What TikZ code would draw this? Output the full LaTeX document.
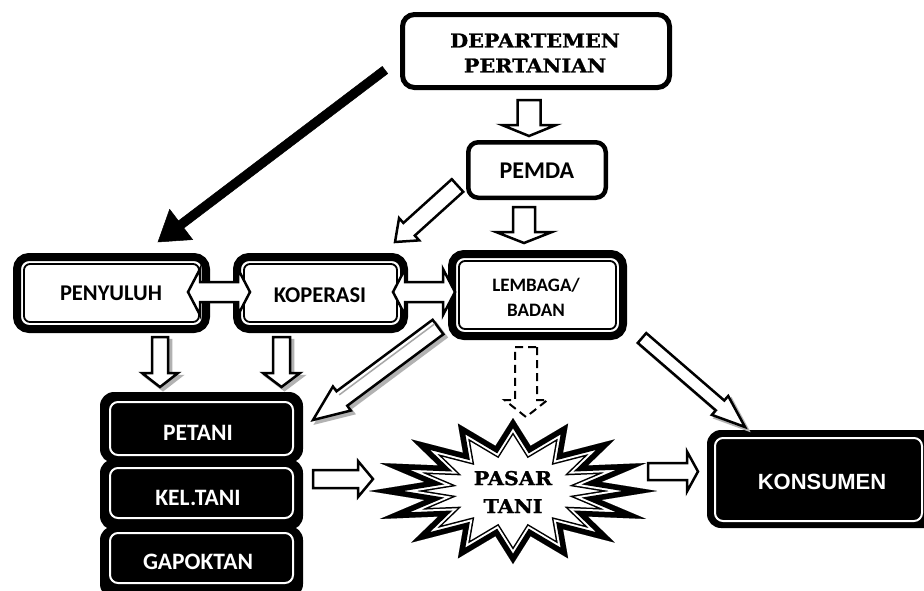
\documentclass[tikz,border=0pt]{standalone}
\usepackage{fontspec}
\setmainfont{DejaVu Serif}
\newfontfamily\calfont{Carlito}
\newfontfamily\arialfont{Liberation Sans}
\newfontfamily\serfont{DejaVu Serif Bold}[FakeBold=1.2,FakeStretch=1.09]
\usetikzlibrary{calc}

% block arrow: [style]{A}{B}{shaft half}{head half}{head length}
\newcommand\barrow[6][]{%
  \path let \p1=($(#3)-(#2)$) in \pgfextra{\pgfmathsetmacro\bA{atan2(\y1,\x1)}\pgfmathsetmacro\bL{veclen(\x1,\y1)}\global\let\gA\bA\global\let\gL\bL};
  \begin{scope}[shift={(#2)},rotate=\gA]
    \path[draw,fill=white,line width=2.5,line join=miter,#1]
      (0pt,#4pt) -- ({(\gL-#6)*1pt},#4pt) -- ({(\gL-#6)*1pt},#5pt) -- ({\gL*1pt},0pt)
      -- ({(\gL-#6)*1pt},-#5pt) -- ({(\gL-#6)*1pt},-#4pt) -- (0pt,-#4pt) -- cycle;
  \end{scope}}
% block arrow with grey shadow
\newcommand\shbarrow[5]{%
  \begin{scope}[xshift=3pt,yshift=-3pt]\barrow[draw=gray!60,fill=gray!60]{#1}{#2}{#3}{#4}{#5}\end{scope}%
  \barrow{#1}{#2}{#3}{#4}{#5}}
% double block arrow
\newcommand\dbarrow[6][]{%
  \path let \p1=($(#3)-(#2)$) in \pgfextra{\pgfmathsetmacro\bA{atan2(\y1,\x1)}\pgfmathsetmacro\bL{veclen(\x1,\y1)}\global\let\gA\bA\global\let\gL\bL};
  \begin{scope}[shift={(#2)},rotate=\gA]
    \path[draw,fill=white,line width=2.5,line join=miter,#1]
      (0pt,0pt) -- (#6pt,#5pt) -- (#6pt,#4pt) -- ({(\gL-#6)*1pt},#4pt) -- ({(\gL-#6)*1pt},#5pt) -- ({\gL*1pt},0pt)
      -- ({(\gL-#6)*1pt},-#5pt) -- ({(\gL-#6)*1pt},-#4pt) -- (#6pt,-#4pt) -- (#6pt,-#5pt) -- cycle;
  \end{scope}}
\newcommand\starpath{(513,418) \foreach \k in {0,...,14}{ -- ({513+90*cos(101.25+22.5*\k)},{491-46*sin(101.25+22.5*\k)}) -- ({513+144*cos(112.5+22.5*\k)},{491-73*sin(112.5+22.5*\k)}) } -- ({513+90*cos(438.75)},{491-46*sin(438.75)}) -- cycle}

\begin{document}
\begin{tikzpicture}[x=1pt,y=-1pt,
  sanslbl/.style={font=\calfont\bfseries\fontsize{22.5}{25}\selectfont, align=center, inner sep=0pt},
  whitelbl/.style={font=\calfont\bfseries\fontsize{23.5}{25}\selectfont, text=white, inner sep=0pt},
  serlbl/.style={font=\serfont\fontsize{19}{25}\selectfont, align=center, inner sep=0pt},
  dblouter/.style={line width=8, rounded corners=12},
  dblinner/.style={line width=1.8, rounded corners=6},
  blackbox/.style={fill=black, rounded corners=14},
  whiteline/.style={draw=white, line width=2, rounded corners=8}]
\clip (0,0) rectangle (924,590);
\fill[white] (0,0) rectangle (924,590);

% DEPARTEMEN PERTANIAN
\draw[line width=5, rounded corners=12] (402.5,14.5) rectangle (669.5,87.5);
\node[serlbl] (dept) at (535,53) {DEPARTEMEN\\PERTANIAN};

% PEMDA
\draw[line width=4.5, rounded corners=10] (468.25,142.25) rectangle (605.75,197.75);
\node[sanslbl, font=\calfont\bfseries\fontsize{24}{26}\selectfont] (pemda) at (537,171) {PEMDA};

% PENYULUH
\draw[dblouter] (17,257) rectangle (206,329);
\draw[dblinner] (24,264) rectangle (199,322);
\node[sanslbl] (penyuluh) at (111,293) {PENYULUH};

% KOPERASI
\draw[dblouter] (237,257) rectangle (404,329);
\draw[dblinner] (244,264) rectangle (397,322);
\node[sanslbl] (koperasi) at (320,295) {KOPERASI};

% LEMBAGA/BADAN
\draw[dblouter] (452,254) rectangle (623,336);
\draw[dblinner] (459,261) rectangle (616,329);
\node[sanslbl, font=\calfont\bfseries\fontsize{19}{25}\selectfont] (lembaga) at (536,297) {LEMBAGA/\\BADAN};

% PETANI stack
\fill[blackbox] (100,392) rectangle (303,463);
\fill[blackbox] (100,459) rectangle (303,530);
\fill[blackbox] (100,526) rectangle (303,598);
\draw[whiteline] (110,402) rectangle (293,455);
\draw[whiteline] (110,468) rectangle (293,518);
\draw[whiteline] (110,533) rectangle (293,583);
\node[whitelbl] (petani) at (198,433) {PETANI};
\node[whitelbl] (keltani) at (198,498) {KEL.TANI};
\node[whitelbl] (gapoktan) at (198,562) {GAPOKTAN};

% KONSUMEN
\fill[blackbox] (707,430) rectangle (945,528);
\draw[whiteline] (715,438) rectangle (922,521);
\node[font=\arialfont\bfseries\fontsize{22}{24}\selectfont, text=white, inner sep=0pt] (konsumen) at (822,482) {KONSUMEN};

% PASAR TANI starburst
\fill[white] \starpath;
\begin{scope}
  \clip \starpath;
  \draw[line width=18, line join=miter, miter limit=40] \starpath;
  \draw[white, line width=15, line join=miter, miter limit=40] \starpath;
  \draw[line width=11, line join=miter, miter limit=40] \starpath;
\end{scope}
\node[serlbl, font=\serfont\fontsize{19}{28}\selectfont] (pasar) at (513,492) {PASAR\\TANI};

% arrows
\barrow{529,100}{529,136}{11.5}{27}{11}
\barrow{524,207}{524,243}{11}{28}{11}
\barrow{457.5,185.5}{395,242}{8.5}{15}{19}
\barrow[fill=black,draw=black,line width=0.5]{385,70}{158,242}{4.5}{19}{29}
\dbarrow{188,292}{250,292}{10}{23}{12}
\dbarrow{393,292}{455,292}{10}{23}{12}
\shbarrow{160,337}{160,387}{8}{18}{14}
\shbarrow{281.5,337}{281.5,387}{8.5}{18.5}{14}
\shbarrow{438,327}{313,420}{9}{15}{36}
\begin{scope}[shift={(438,327)},rotate=\gA]
  \draw[gray!70, line width=1.5] (1pt,-4.5pt) -- ({(\gL-36)*1pt},-4.5pt);
\end{scope}
\barrow[line width=2, dashed, dash pattern=on 8pt off 5pt]{526,347}{526,417}{11}{21.5}{17}
\shbarrow{642,338}{745,427}{6.5}{12.5}{33}
\barrow{313,479}{373,479}{9}{18}{15}
\barrow{648,471.5}{698,471.5}{8.5}{20}{11}
\end{tikzpicture}
\end{document}
